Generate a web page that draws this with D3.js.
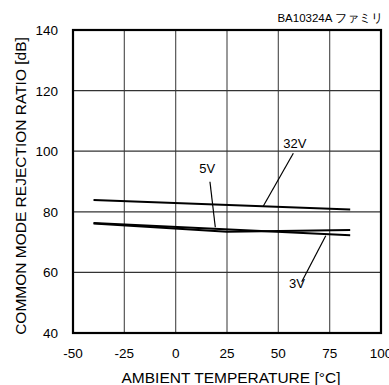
<!DOCTYPE html>
<html>
<head>
<meta charset="utf-8">
<script src="https://cdn.jsdelivr.net/npm/d3@7"></script>
<style>
  body { margin: 0; background: #fff; }
  svg { display: block; font-family: "Liberation Sans", Arial, sans-serif; }
</style>
</head>
<body>
<div id="chart"></div>
<script>
'use strict';

// data
const x_ticks = [-50, -25, 0, 25, 50, 75, 100]
const y_ticks = [40, 60, 80, 100, 120, 140]

const temp_32v = [-40, 85]
const cmrr_32v = [83.9, 80.8]
const temp_5v = [-40, 25, 85]
const cmrr_5v = [76.1, 73.4, 74.0]
const temp_3v = [-40, 85]
const cmrr_3v = [76.3, 72.3]

// label text, label centre and leader ends (all in data units)
const labels = [
  { text: '32V', lx: 58.0, ly: 102.6, from: [57.3, 99.3], to: [42.7, 81.9] },
  { text: '5V', lx: 15.4, ly: 94.4, from: [16.7, 89.9], to: [19.3, 74.9] },
  { text: '3V', lx: 59.1, ly: 56.5, from: [73.1, 72.1], to: [61.4, 56.9] }
]

const series = [
  { name: '32V', x: temp_32v, y: cmrr_32v },
  { name: '5V', x: temp_5v, y: cmrr_5v },
  { name: '3V', x: temp_3v, y: cmrr_3v }
]

const dims = { width: 389, height: 385, left: 73, right: 381, top: 30, bottom: 333 }

const svg = d3.select('#chart').append('svg')
  .attr('width', dims.width)
  .attr('height', dims.height)

const xScale = d3.scaleLinear().domain([-50, 100]).range([dims.left, dims.right])
const yScale = d3.scaleLinear().domain([40, 140]).range([dims.bottom, dims.top])

// grid
svg.append('g')
  .selectAll('line')
  .data(x_ticks.slice(1, -1))
  .join('line')
  .attr('x1', d => xScale(d)).attr('x2', d => xScale(d))
  .attr('y1', dims.top).attr('y2', dims.bottom)
  .attr('stroke', '#555').attr('stroke-width', 1.2)

svg.append('g')
  .selectAll('line')
  .data(y_ticks.slice(1, -1))
  .join('line')
  .attr('y1', d => yScale(d)).attr('y2', d => yScale(d))
  .attr('x1', dims.left).attr('x2', dims.right)
  .attr('stroke', '#333').attr('stroke-width', 1.2)

// frame
svg.append('rect')
  .attr('x', dims.left).attr('y', dims.top)
  .attr('width', dims.right - dims.left)
  .attr('height', dims.bottom - dims.top)
  .attr('fill', 'none')
  .attr('stroke', '#000')
  .attr('stroke-width', 2.2)

// tick labels
svg.append('g')
  .attr('font-size', 13.5)
  .attr('text-anchor', 'middle')
  .selectAll('text')
  .data(x_ticks)
  .join('text')
  .attr('x', d => xScale(d))
  .attr('y', 358)
  .text(d => d)

svg.append('g')
  .attr('font-size', 13.5)
  .attr('text-anchor', 'end')
  .selectAll('text')
  .data(y_ticks)
  .join('text')
  .attr('x', 58)
  .attr('y', d => yScale(d) + 5)
  .text(d => d)

// axis titles
svg.append('text')
  .attr('x', 231).attr('y', 383)
  .attr('text-anchor', 'middle')
  .attr('font-size', 15.5)
  .text('AMBIENT TEMPERATURE [°C]')

svg.append('text')
  .attr('transform', 'translate(26,186) rotate(-90)')
  .attr('text-anchor', 'middle')
  .attr('font-size', 15.5)
  .text('COMMON MODE REJECTION RATIO [dB]')

svg.append('text')
  .attr('x', 383).attr('y', 22)
  .attr('text-anchor', 'end')
  .attr('font-size', 11.5)
  .text('BA10324A ファミリ')

// curves
const line_gen = d3.line()
  .x(d => xScale(d[0]))
  .y(d => yScale(d[1]))

svg.append('g')
  .selectAll('path')
  .data(series)
  .join('path')
  .attr('d', d => line_gen(d.x.map((v, i) => [v, d.y[i]])))
  .attr('fill', 'none')
  .attr('stroke', '#000')
  .attr('stroke-width', 2)

// labels and leaders
const lab_g = svg.append('g')
lab_g.selectAll('line')
  .data(labels)
  .join('line')
  .attr('x1', d => xScale(d.from[0])).attr('y1', d => yScale(d.from[1]))
  .attr('x2', d => xScale(d.to[0])).attr('y2', d => yScale(d.to[1]))
  .attr('stroke', '#000').attr('stroke-width', 1.2)

lab_g.selectAll('text')
  .data(labels)
  .join('text')
  .attr('x', d => xScale(d.lx))
  .attr('y', d => yScale(d.ly) + 5)
  .attr('text-anchor', 'middle')
  .attr('font-size', 13)
  .text(d => d.text)
</script>
</body>
</html>
